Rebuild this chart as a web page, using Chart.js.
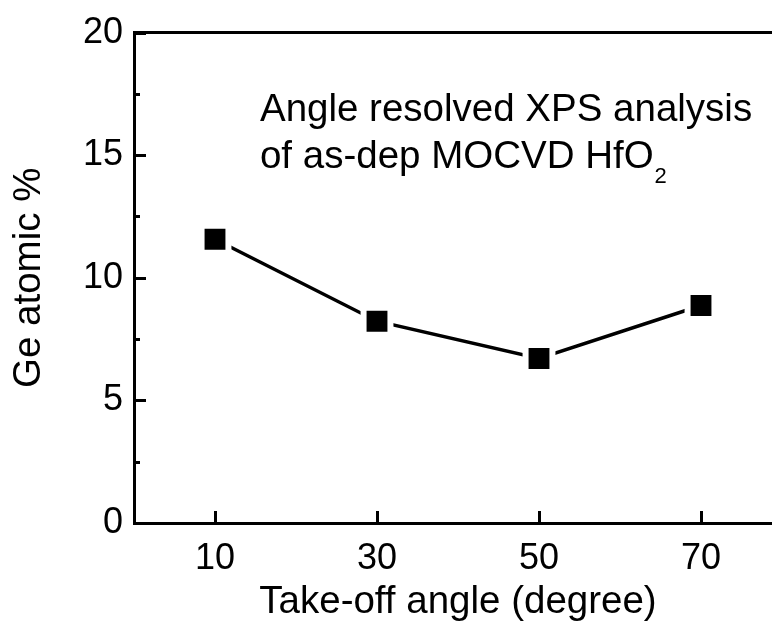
<!DOCTYPE html>
<html>
<head>
<meta charset="utf-8">
<script src="https://cdn.jsdelivr.net/npm/chart.js@4.4.1/dist/chart.umd.min.js"></script>
<style>
  html, body { margin: 0; padding: 0; background: #fff; overflow: hidden; }
  /* the plot frame runs on a little past the visible window */
  #wrap { width: 800px; height: 625px; }
  canvas { display: block; }
</style>
</head>
<body>
<div id="wrap"><canvas id="c" width="800" height="625"></canvas></div>
<script>
// Take-off angle (degree) and measured Ge content (atomic %)
const angles = [10, 30, 50, 70];
const geAtomic = [11.57, 8.23, 6.71, 8.87];

// Axis ticks
const xTickValues = [10, 30, 50, 70];
const yMajorTicks = [0, 5, 10, 15, 20];
const yMinorTicks = [2.5, 7.5, 12.5, 17.5];

// Annotation text
const noteLine1 = 'Angle resolved XPS analysis';
const noteLine2 = 'of as-dep MOCVD HfO';
const noteSub = '2';

const FONT = "'Liberation Sans', Arial, sans-serif";

// Tick marks pointing into the plot area, plus the text annotation
const innerTicks = {
  id: 'innerTicks',
  afterDraw(chart) {
    const ctx = chart.ctx;
    const area = chart.chartArea;
    const xs = chart.scales.x;
    const ys = chart.scales.y;
    ctx.save();
    ctx.strokeStyle = '#000';
    ctx.lineWidth = 3;
    ctx.lineCap = 'butt';
    ctx.beginPath();
    xTickValues.forEach(v => {
      const px = Math.round(xs.getPixelForValue(v)) + 0.5;
      ctx.moveTo(px, area.bottom);
      ctx.lineTo(px, area.bottom - 12);
    });
    yMajorTicks.forEach(v => {
      const py = Math.round(ys.getPixelForValue(v)) + 0.5;
      ctx.moveTo(area.left, py);
      ctx.lineTo(area.left + 12, py);
    });
    yMinorTicks.forEach(v => {
      const py = Math.round(ys.getPixelForValue(v)) + 0.5;
      ctx.moveTo(area.left, py);
      ctx.lineTo(area.left + 6, py);
    });
    ctx.stroke();

    // annotation
    ctx.fillStyle = '#000';
    ctx.textBaseline = 'alphabetic';
    ctx.textAlign = 'left';
    ctx.font = '38.5px ' + FONT;
    const tx = xs.getPixelForValue(15.55);
    const ty1 = ys.getPixelForValue(16.4);
    const ty2 = ys.getPixelForValue(14.48);
    ctx.fillText(noteLine1, tx, ty1);
    ctx.fillText(noteLine2, tx, ty2);
    const w = ctx.measureText(noteLine2).width;
    ctx.font = '22px ' + FONT;
    ctx.fillText(noteSub, tx + w + 1, ty2 + 15);
    ctx.restore();
  }
};

new Chart(document.getElementById('c'), {
  type: 'line',
  data: {
    labels: angles,
    datasets: [{
      data: angles.map((a, i) => ({ x: a, y: geAtomic[i] })),
      borderColor: '#000',
      borderWidth: 3.5,
      tension: 0,
      pointStyle: 'rect',
      pointRadius: 19,
      pointHoverRadius: 19,
      pointBackgroundColor: '#000',
      pointBorderColor: '#fff',
      pointBorderWidth: 6,
      pointHoverBorderWidth: 6
    }]
  },
  options: {
    responsive: false,
    animation: false,
    devicePixelRatio: 1,
    layout: { autoPadding: false, padding: { top: 32, right: 18, left: 0, bottom: 0 } },
    plugins: {
      legend: { display: false },
      tooltip: { enabled: false }
    },
    scales: {
      x: {
        type: 'linear',
        position: 'bottom',
        min: 0,
        max: 80,
        afterBuildTicks(scale) { scale.ticks = xTickValues.map(v => ({ value: v })); },
        afterFit(scale) { scale.height = 102; },
        grid: { display: false, drawTicks: false },
        border: { display: true, color: '#000', width: 3 },
        ticks: {
          color: '#000',
          font: { family: FONT, size: 36 },
          padding: 14,
          maxRotation: 0
        },
        title: {
          display: true,
          text: 'Take-off angle (degree)',
          color: '#000',
          font: { family: FONT, size: 38.5 },
          padding: { top: 0, bottom: 0 }
        }
      },
      y: {
        type: 'linear',
        position: 'left',
        min: 0,
        max: 20,
        afterBuildTicks(scale) { scale.ticks = yMajorTicks.map(v => ({ value: v })); },
        afterFit(scale) { scale.width = 134; },
        grid: { display: false, drawTicks: false },
        border: { display: true, color: '#000', width: 3 },
        ticks: {
          color: '#000',
          font: { family: FONT, size: 36 },
          padding: 11
        },
        title: {
          display: true,
          text: 'Ge atomic %',
          color: '#000',
          font: { family: FONT, size: 38.5 },
          padding: { top: 6, bottom: 0 }
        }
      },
      xTop: {
        type: 'linear',
        position: 'top',
        min: 0,
        max: 80,
        afterFit(scale) { scale.height = 0; },
        grid: { display: false, drawTicks: false },
        border: { display: true, color: '#000', width: 3 },
        ticks: { display: false }
      },
      yRight: {
        type: 'linear',
        position: 'right',
        min: 0,
        max: 20,
        afterFit(scale) { scale.width = 0; },
        grid: { display: false, drawTicks: false },
        border: { display: true, color: '#000', width: 3 },
        ticks: { display: false }
      }
    }
  },
  plugins: [innerTicks]
});
</script>
</body>
</html>
